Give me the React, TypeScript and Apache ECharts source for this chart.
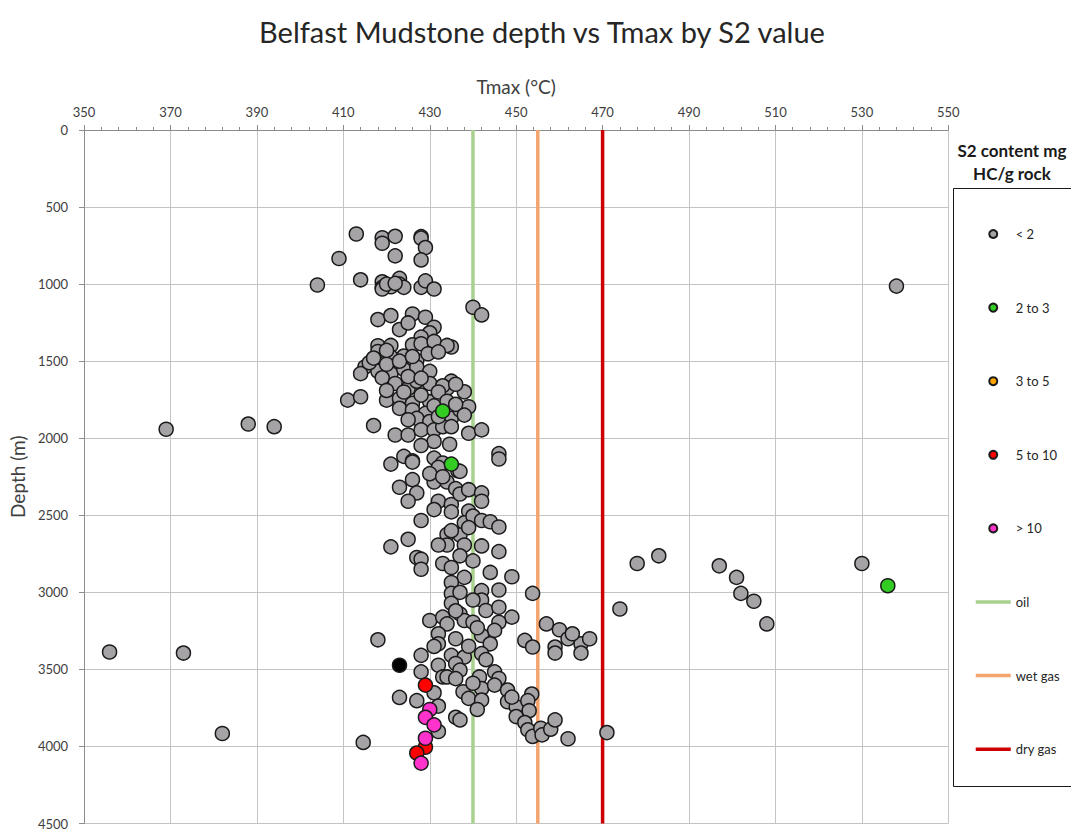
import React, { useEffect, useRef } from "react";
import * as echarts from "echarts";

const titleText = "Belfast Mudstone depth vs Tmax by S2 value";
const xTicks = { min: 350, max: 550, interval: 20 };
const yTicks = { min: 0, max: 4500, interval: 500 };

// [Tmax (°C), Depth (m)]
const s2Below2: number[][] = [
  [413, 675], [419, 699], [419, 735], [422, 690], [428, 692], [428, 702], [429, 763], [428, 843], [422, 817], [409, 834],
  [404, 1006], [414, 972], [419, 985], [419, 1021], [421, 1017], [423, 963], [423, 1000], [424, 1021], [419, 1032],
  [428, 1021], [429, 979], [431, 1032], [420, 1000], [422, 995],
  [440, 1150], [442, 1200],
  [418, 1230], [421, 1204], [426, 1194], [429, 1215], [423, 1295], [425, 1252], [431, 1280], [430, 1316], [428, 1344],
  [418, 1400], [421, 1398], [426, 1394], [428, 1387], [431, 1372], [435, 1408], [434, 1398],
  [418, 1437], [421, 1473], [424, 1467], [427, 1495], [429.6, 1452], [415, 1538], [414, 1581], [418, 1566], [421, 1581],
  [424, 1553], [427, 1538], [430, 1566], [419, 1608], [422, 1645], [425, 1677], [427, 1630], [430, 1645], [435, 1630],
  [434, 1677], [438, 1699], [411, 1753], [414, 1731], [420, 1753], [423, 1742], [426, 1774], [430, 1763], [423, 1806],
  [426, 1817], [429, 1839], [435, 1871], [437, 1817], [439, 1796], [427, 1871], [430, 1892], [417, 1918], [422, 1979],
  [425, 1979], [428, 1946], [431, 1946], [433, 1925], [435, 1925], [439, 1968], [442, 1946], [431, 2021], [434.6, 2039],
  [428, 2047], [424, 2118], [426, 2147], [431, 2129], [433, 2161],
  [416, 1510], [420, 1520], [423, 1500], [426, 1470], [432, 1440], [420, 1430], [417, 1480], [425, 1600], [428, 1610],
  [433, 1660], [436, 1650], [432, 1700], [428, 1720], [424, 1700], [420, 1690], [431, 1790], [434, 1760], [436, 1780],
  [432, 1860], [438, 1850], [425, 1880],
  [421, 2168], [426, 2155], [432, 2189], [436.5, 2211], [446, 2100], [446, 2135], [426, 2269], [423, 2318], [431, 2284],
  [434, 2284], [436, 2327], [427, 2355], [425, 2409], [432, 2409], [435, 2430], [437, 2362], [439, 2334], [442, 2355],
  [442, 2409], [431, 2463], [435, 2478], [439, 2473], [428, 2534], [438, 2549], [440, 2505], [442, 2534], [444, 2542],
  [446, 2576], [425, 2656], [421, 2705], [434, 2624], [437, 2628], [434, 2693], [432, 2693], [438, 2693], [442, 2699],
  [427, 2774], [428, 2785], [428, 2850], [433, 2813], [437, 2763], [440, 2796], [435, 2839], [446, 2736], [444, 2871],
  [449, 2899], [438, 2903], [435, 2936], [437, 2215], [430, 2230], [433, 2250], [435, 2600], [439, 2580],
  [446, 2985], [442, 2989], [453.8, 3007], [435, 3007], [435, 3071], [442, 3050], [443, 3118], [446, 3097], [449, 3161],
  [437, 3140], [430, 3183], [433, 3161], [434, 3205], [438, 3183], [440, 3194], [446, 3194], [445, 3247], [432, 3269],
  [436, 3301], [442, 3280], [444, 3334], [418, 3308], [432, 3334], [431, 3351], [452, 3312], [453.8, 3355], [457, 3205],
  [460, 3243], [462, 3301], [459, 3355], [459, 3394], [465, 3334], [465, 3394], [467, 3301], [463, 3269], [428, 3409],
  [435, 3409], [438, 3420], [442, 3398], [443, 3437], [428, 3516], [432, 3473], [436, 3462], [437, 3505], [445, 3516],
  [433, 3549], [434, 3549], [441.5, 3549], [446, 3559], [431, 3652], [437.7, 3645], [442, 3624], [445, 3602], [448, 3634],
  [453.6, 3660], [423, 3682], [427, 3703], [432, 3738], [432, 3903], [414.6, 3974], [439, 3688], [442, 3699], [441, 3760],
  [436, 3811], [437, 3828], [448, 3710], [450, 3742], [452.7, 3703], [453, 3768], [450, 3806], [452, 3845], [452.7, 3892],
  [453.8, 3935], [455.7, 3882], [456, 3925], [458, 3888], [459, 3828], [462, 3950], [471, 3910], [449, 3680], [437, 3000],
  [440, 3050], [436, 3120], [441, 3230], [439, 3350], [436, 3560], [440, 3590],
  [369, 1942], [388, 1908], [394, 1925], [355.9, 3387], [373, 3394], [382, 3916], [478, 2813], [483, 2763], [497, 2828],
  [501, 2903], [502, 3007], [505, 3058], [508, 3205], [530, 2813], [474, 3108], [538, 1013],
];
const s2From2To3: number[][] = [[433, 1824], [435, 2168], [536, 2957]];
const s2From3To5: number[][] = [];
const s2From5To10: number[][] = [[429, 3602], [429, 4005], [427, 4043]];
const s2Above10: number[][] = [[430, 3760], [429, 3811], [431, 3860], [429, 3947], [428, 4108]];
const s2Unclassified: number[][] = [[423, 3473]];

const oilTmax = 440;
const wetGasTmax = 455;
const dryGasTmax = 470;

const scatterLegendNames = ["< 2", "2 to 3", "3 to 5", "5 to 10", "> 10"];
const lineLegendNames = ["oil", "wet gas", "dry gas"];

const FONT = "Lato, 'Open Sans', sans-serif";

export default function App() {
  const ref = useRef<HTMLDivElement>(null);
  useEffect(() => {
    document.body.style.margin = "0";
    if (!ref.current) return;
    const chart = echarts.init(ref.current, undefined, { renderer: "svg" });
    const scatter = (name: string, data: number[][], color: string) => ({
      name,
      type: "scatter",
      data,
      symbol: "circle",
      symbolSize: 14,
      itemStyle: { color, borderColor: "#1a1a1a", borderWidth: 1.5, opacity: 1 },
      z: 3,
    });
    const vline = (name: string, x: number, color: string) => ({
      name,
      type: "line",
      data: [[x, yTicks.min], [x, yTicks.max]],
      symbol: "none",
      lineStyle: { color, width: 3.5 },
      itemStyle: { color: "rgba(0,0,0,0)", borderWidth: 0 },
      z: 2,
    });
    chart.setOption({
      animation: false,
      backgroundColor: "#ffffff",
      textStyle: { fontFamily: FONT },
      title: {
        text: titleText,
        left: 537,
        top: 12,
        textAlign: "center",
        textStyle: { fontFamily: FONT, fontSize: 29, fontWeight: "normal", color: "#262626" },
      },
      grid: { left: 81.6, right: 122.7, top: 130, bottom: 2.5 },
      xAxis: {
        type: "value",
        position: "top",
        min: xTicks.min,
        max: xTicks.max,
        interval: xTicks.interval,
        name: "Tmax (°C)",
        nameLocation: "middle",
        nameGap: 34,
        nameTextStyle: { fontFamily: FONT, fontSize: 19, color: "#404040" },
        axisLine: { show: true, lineStyle: { color: "#8c8c8c", width: 1 } },
        axisTick: { show: true, length: 5, lineStyle: { color: "#8c8c8c" } },
        minorTick: { show: true, splitNumber: 5, length: 3, lineStyle: { color: "#8c8c8c" } },
        axisLabel: { fontFamily: FONT, fontSize: 13, color: "#404040", margin: 12 },
        splitLine: { show: true, lineStyle: { color: "#c4c4c4", width: 1 } },
      },
      yAxis: {
        type: "value",
        inverse: true,
        min: yTicks.min,
        max: yTicks.max,
        interval: yTicks.interval,
        name: "Depth (m)",
        nameLocation: "middle",
        nameGap: 57,
        nameRotate: 90,
        nameTextStyle: { fontFamily: FONT, fontSize: 19, color: "#404040" },
        axisLine: { show: true, lineStyle: { color: "#8c8c8c", width: 1 } },
        axisTick: { show: true, length: 5, lineStyle: { color: "#8c8c8c" } },
        axisLabel: {
          fontFamily: FONT,
          fontSize: 13,
          color: "#404040",
          margin: 16,
          formatter: (v: number) => String(v),
        },
        splitLine: { show: true, lineStyle: { color: "#c4c4c4", width: 1 } },
      },
      legend: {
        orient: "vertical",
        left: 969,
        top: 222,
        itemWidth: 35,
        itemHeight: 8,
        itemGap: 59.6,
        lineStyle: { width: 3.5 },
        data: [
          ...scatterLegendNames.map((n) => ({ name: n })),
          ...lineLegendNames.map((n) => ({ name: n, itemStyle: { opacity: 0 } })),
        ],
        textStyle: { fontFamily: FONT, fontSize: 13, color: "#262626", lineHeight: 14 },
      },
      graphic: [
        {
          type: "rect",
          shape: { x: 953.5, y: 188.5, width: 140, height: 598 },
          style: { fill: "none", stroke: "#1a1a1a", lineWidth: 1 },
          silent: true,
        },
        {
          type: "text",
          x: 1012,
          y: 139,
          style: {
            text: "S2 content mg\nHC/g rock",
            align: "center",
            verticalAlign: "top",
            font: `bold 17px ${FONT}`,
            lineHeight: 23,
            fill: "#1a1a1a",
          },
          silent: true,
        },
      ],
      series: [
        scatter("< 2", s2Below2, "#a6a3a6"),
        scatter("2 to 3", s2From2To3, "#33cc22"),
        scatter("3 to 5", s2From3To5, "#ffa500"),
        scatter("5 to 10", s2From5To10, "#ff0000"),
        scatter("> 10", s2Above10, "#ff33cc"),
        scatter("unclassified", s2Unclassified, "#000000"),
        vline("oil", oilTmax, "#a9d18e"),
        vline("wet gas", wetGasTmax, "#f4a46e"),
        vline("dry gas", dryGasTmax, "#cc0000"),
      ],
    });
    return () => chart.dispose();
  }, []);
  return (
    <div
      ref={ref}
      style={{ position: "fixed", left: 0, top: 0, width: 1071, height: 830 }}
    />
  );
}
